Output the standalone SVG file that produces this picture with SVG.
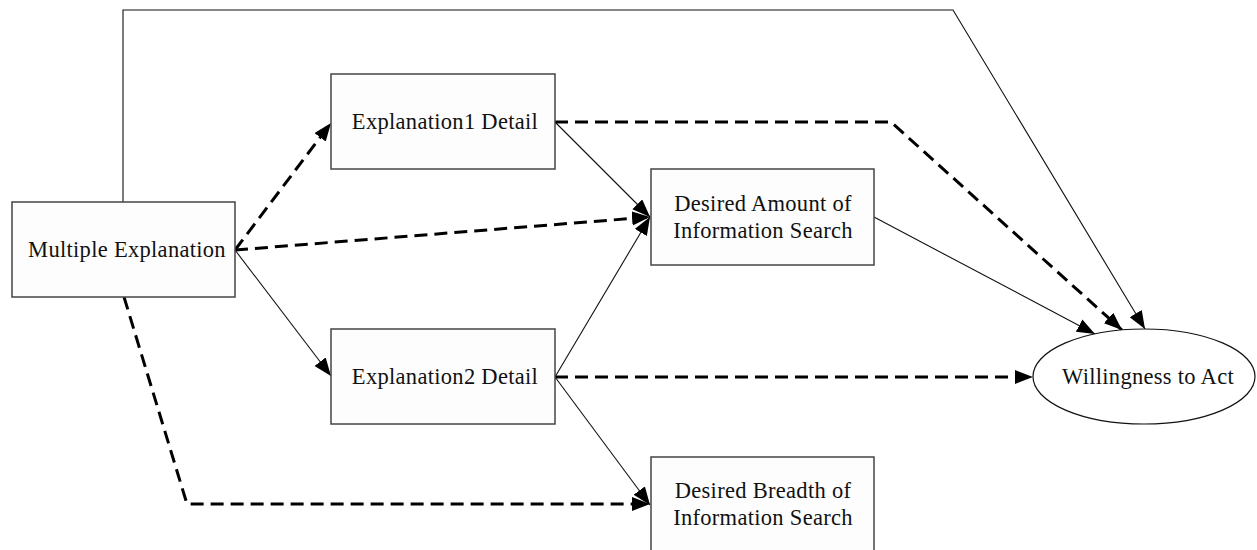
<svg xmlns="http://www.w3.org/2000/svg" width="1257" height="550" viewBox="0 0 1257 550">
<style>
.box{fill:#fdfdfd;stroke:#444;stroke-width:1.5}
.ell{fill:#fff;stroke:#111;stroke-width:1.2}
.t{font-family:"Liberation Serif","Times New Roman",serif;font-size:22.5px;letter-spacing:0.3px;fill:#111;text-anchor:middle}
.s{fill:none;stroke:#111;stroke-width:1.1}
.d{fill:none;stroke:#000;stroke-width:3;stroke-dasharray:13 7}
</style>
<defs>
<marker id="ah" markerUnits="userSpaceOnUse" markerWidth="19" markerHeight="15" refX="18" refY="7" orient="auto">
<path d="M0,0 L18,7 L0,14 z" fill="#000"/>
</marker>
</defs>
<rect width="1257" height="550" fill="#fff"/>
<g id="connectors">
<path class="s" d="M123,202 V10 H953 L1145,329" marker-end="url(#ah)"/>
<path class="d" d="M235,250 L331,123" marker-end="url(#ah)"/>
<path class="d" d="M235,250 L650,217" marker-end="url(#ah)"/>
<path class="s" d="M235,250 L331,376" marker-end="url(#ah)"/>
<path class="d" d="M124,297 L187,504 H650" marker-end="url(#ah)"/>
<path class="s" d="M555,122 L650,217" marker-end="url(#ah)"/>
<path class="s" d="M555,377 L650,217" marker-end="url(#ah)"/>
<path class="s" d="M555,377 L650,505" marker-end="url(#ah)"/>
<path class="d" d="M555,122 H891 L1122,330" marker-end="url(#ah)"/>
<path class="s" d="M874,217 L1095,334" marker-end="url(#ah)"/>
<path class="d" d="M555,377 H1033" marker-end="url(#ah)"/>
</g>
<g id="multiple-explanation">
<rect class="box" x="12" y="202" width="223" height="95"/>
<text class="t" x="127" y="257">Multiple Explanation</text>
</g>
<g id="explanation1-detail">
<rect class="box" x="331" y="74" width="224" height="95"/>
<text class="t" x="445" y="129">Explanation1 Detail</text>
</g>
<g id="explanation2-detail">
<rect class="box" x="331" y="329" width="224" height="95"/>
<text class="t" x="445" y="384">Explanation2 Detail</text>
</g>
<g id="desired-amount">
<rect class="box" x="651" y="169" width="223" height="96"/>
<text class="t" x="763" y="211">Desired Amount of</text>
<text class="t" x="763" y="238">Information Search</text>
</g>
<g id="desired-breadth">
<rect class="box" x="651" y="457" width="223" height="96"/>
<text class="t" x="763" y="498">Desired Breadth of</text>
<text class="t" x="763" y="525">Information Search</text>
</g>
<g id="willingness">
<ellipse class="ell" cx="1144" cy="376.5" rx="111" ry="47.5"/>
<text class="t" x="1148" y="384">Willingness to Act</text>
</g>
</svg>
